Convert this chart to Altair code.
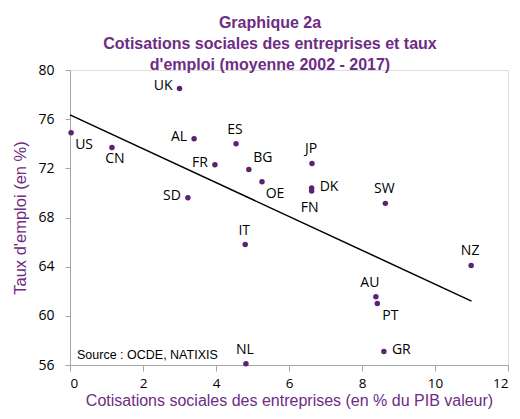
import altair as alt
import pandas as pd

countries = ["US", "CN", "UK", "AL", "ES", "FR", "BG", "OE", "SD", "IT",
             "JP", "DK", "FN", "SW", "NZ", "AU", "PT", "GR", "NL"]
cotisations = [0.03, 1.15, 3.0, 3.4, 4.55, 3.97, 4.9, 5.26, 3.23, 4.8,
               6.63, 6.62, 6.62, 8.64, 10.99, 8.38, 8.42, 8.6, 4.82]
emploi = [74.9, 73.7, 78.5, 74.4, 74.0, 72.3, 71.9, 70.9, 69.6, 65.8,
          72.4, 70.4, 70.15, 69.15, 64.1, 61.55, 61.0, 57.1, 56.1]
# label placement relative to its point
placement = {"US": "BR", "CN": "B", "UK": "L", "AL": "L", "ES": "A", "FR": "L",
             "BG": "AR", "OE": "BR", "SD": "L", "IT": "A", "JP": "A", "DK": "R",
             "FN": "BL", "SW": "A", "NZ": "A", "AU": "AL", "PT": "BR", "GR": "R",
             "NL": "A"}

trend_x = [0.0, 11.0]
trend_y = [76.35, 61.2]

title_lines = ["Graphique 2a",
               "Cotisations sociales des entreprises et taux",
               "d'emploi (moyenne 2002 - 2017)"]
x_title = "Cotisations sociales des entreprises (en % du PIB valeur)"
y_title = "Taux d'emploi (en %)"
source_text = "Source : OCDE, NATIXIS"

df = pd.DataFrame({"pays": countries, "x": cotisations, "y": emploi,
                   "pos": [placement[c] for c in countries]})
trend = pd.DataFrame({"x": trend_x, "y": trend_y})

PURPLE_PT = "#5E2070"
PURPLE_TXT = "#6E2C84"
LABEL_FONT = "Open Sans"

xs = alt.Scale(domain=[0, 12], nice=False, zero=False)
ys = alt.Scale(domain=[56, 80], nice=False, zero=False)

xenc = alt.X("x:Q", scale=xs, axis=alt.Axis(
    title=x_title, values=[0, 2, 4, 6, 8, 10, 12], grid=False,
    domainColor="#A6A6A6", tickColor="#A6A6A6", tickSize=6,
    labelFont=LABEL_FONT, labelFontSize=13.5, labelColor="#000000", labelPadding=5,
    titleFont="Liberation Sans", titleFontSize=16, titleFontWeight="normal",
    titleColor=PURPLE_TXT, titlePadding=3))
yenc = alt.Y("y:Q", scale=ys, axis=alt.Axis(
    title=y_title, values=[56, 60, 64, 68, 72, 76, 80], grid=False,
    domainColor="#A6A6A6", tickColor="#A6A6A6", tickSize=5,
    labelFont=LABEL_FONT, labelFontSize=14, labelColor="#000000", labelPadding=11,
    titleFont="Liberation Sans", titleFontSize=16.5, titleFontWeight="normal",
    titleColor=PURPLE_TXT, titlePadding=9))

base = alt.Chart(df)

points = base.mark_circle(size=30, color=PURPLE_PT, opacity=1).encode(x=xenc, y=yenc)

line = alt.Chart(trend).mark_line(color="#000000", strokeWidth=1.5).encode(
    x=alt.X("x:Q", scale=xs), y=alt.Y("y:Q", scale=ys))

offsets = {
    "L": dict(align="right", dx=-7, dy=-2),
    "R": dict(align="left", dx=8, dy=-1),
    "A": dict(align="center", dx=-1, dy=-14),
    "B": dict(align="center", dx=3, dy=12),
    "BR": dict(align="center", dx=13, dy=12),
    "AR": dict(align="center", dx=14, dy=-12),
    "AL": dict(align="center", dx=-6, dy=-14),
    "BL": dict(align="center", dx=-2, dy=17),
}

label_layers = []
for code, opts in offsets.items():
    lab = base.transform_filter(alt.datum.pos == code).mark_text(
        font=LABEL_FONT, fontSize=14, color="#000000", baseline="middle", **opts
    ).encode(x=alt.X("x:Q", scale=xs), y=alt.Y("y:Q", scale=ys), text="pays:N")
    label_layers.append(lab)

source = alt.Chart(pd.DataFrame({"t": [source_text]})).mark_text(
    font="Liberation Sans", fontSize=12.5, color="#000000", align="left",
    baseline="alphabetic").encode(x=alt.value(7), y=alt.value(289), text="t:N")

chart = alt.layer(line, points, *label_layers, source).properties(
    width=438, height=295,
    title=alt.TitleParams(text=title_lines, font="Liberation Sans", fontSize=16,
                          fontWeight="bold", color=PURPLE_TXT, anchor="middle",
                          dx=-19, lineHeight=21, offset=-10),
    autosize=alt.AutoSizeParams(type="none"),
    padding={"left": 62, "top": 62, "right": 4, "bottom": 46},
).configure_view(stroke=None).configure(background="white")

chart.save("out.html", embed_options={"renderer": "svg", "actions": False})
